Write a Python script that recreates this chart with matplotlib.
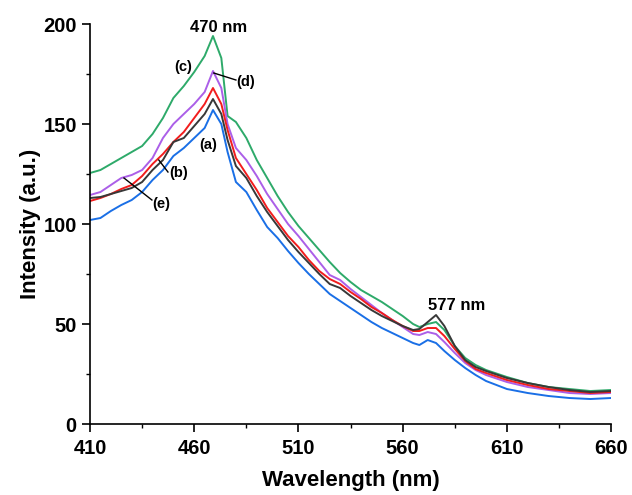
import numpy as np
import matplotlib
matplotlib.use("Agg")
import matplotlib.pyplot as plt

plt.rcParams['font.family'] = ['Liberation Sans', 'DejaVu Sans']
plt.rcParams['font.weight'] = 'bold'

# wavelength grid (nm)
wl = [410, 415, 420, 425, 430, 435, 440, 445, 450, 455, 460, 465, 469, 473, 476,
      480, 485, 490, 495, 500, 505, 510, 515, 520, 525, 530, 535, 540, 545, 550,
      555, 560, 565, 568, 572, 576, 580, 585, 590, 595, 600, 610, 620, 630, 640,
      650, 660]

# (a) black
a_int = [113, 113.5, 115, 116.5, 118, 121, 127, 132, 141, 143, 149, 155, 162.5, 155, 142,
         129, 123, 114, 106, 99, 92, 86, 80.5, 75, 70, 68, 64, 60.5, 57, 54,
         51.5, 49, 47, 47.5, 51, 54.5, 49, 39, 32, 28.5, 26.5, 23, 20.5, 18.5, 17,
         16, 16.5]
# (b) red
b_int = [111.5, 113, 115, 117.5, 119.5, 124, 130, 135, 141, 146, 153, 160, 168, 160, 147,
         133, 125, 117, 108, 101, 94, 88.5, 82, 76.5, 72.5, 70, 66, 62.5, 58.5, 55.5,
         52, 49, 46.5, 46.5, 48, 48, 44, 37.5, 31.5, 27.5, 25.5, 22, 19.5, 17.5, 16.5,
         15.5, 16]
# (c) green
c_int = [125.5, 127, 130, 133, 136, 139, 145, 153, 163, 169, 176, 184, 194, 183, 154,
         151, 143, 132, 123, 114, 106, 99, 93, 87, 81, 75.5, 71, 67, 64, 61,
         57.5, 54, 50, 48.5, 50, 51, 47, 39, 33, 29.5, 27, 23.5, 20.5, 18.5, 17.5,
         16.5, 17]
# (d) purple
d_int = [114.5, 116, 119.5, 123, 124.5, 127, 133, 143, 150, 155, 160, 166, 176.5, 168, 150,
         138, 132, 124, 115, 107.5, 100, 94, 87.5, 81, 74.5, 72, 67.5, 63.5, 59.5, 55.5,
         52, 48.5, 45, 44.5, 46, 45, 41, 35.5, 30.5, 27, 24.5, 21, 18.5, 17, 15.5,
         15, 15.5]
# (e) blue
e_int = [102, 103, 106.5, 109.5, 112, 116, 122, 127, 134, 138, 143, 148, 157, 150, 136,
         121, 116, 107, 98.5, 93, 86.5, 80.5, 75, 70, 65, 61.5, 58, 54.5, 51, 48,
         45.5, 43, 40.5, 39.5, 42, 40.5, 36.5, 32, 28, 24.5, 21.5, 17.5, 15.5, 14, 13,
         12.5, 13]

x_major = [410, 460, 510, 560, 610, 660]
x_minor = [435, 485, 535, 585, 635]
y_major = [0, 50, 100, 150, 200]
y_minor = [25, 75, 125, 175]

fig = plt.figure(figsize=(6.32, 4.95), dpi=100)
ax = fig.add_axes([0.1424, 0.1434, 0.8246, 0.8081])

ax.plot(wl, c_int, color='#2eaa6a', lw=1.4)
ax.plot(wl, d_int, color='#ab5fe8', lw=1.4)
ax.plot(wl, b_int, color='#f21d1d', lw=1.4)
ax.plot(wl, a_int, color='#383838', lw=1.4)
ax.plot(wl, e_int, color='#1a6fe6', lw=1.4)

ax.set_xlim(410, 660)
ax.set_ylim(0, 200)
ax.set_xticks(x_major)
ax.set_xticks(x_minor, minor=True)
ax.set_yticks(y_major)
ax.set_yticks(y_minor, minor=True)

for s in ['top', 'right']:
    ax.spines[s].set_visible(False)
for s in ['left', 'bottom']:
    ax.spines[s].set_linewidth(1.2)

ax.tick_params(which='major', direction='out', length=5.5, width=1.2, labelsize=14.5)
ax.tick_params(axis='x', which='major', pad=5)
ax.tick_params(axis='y', which='major', pad=4)
ax.tick_params(which='minor', direction='out', length=3, width=1.0)
for lab in ax.get_xticklabels() + ax.get_yticklabels():
    lab.set_fontweight('bold')

ax.set_xlabel('Wavelength (nm)', fontsize=16, fontweight='bold', labelpad=9)
ax.set_ylabel('Intensity (a.u.)', fontsize=16, fontweight='bold', labelpad=2)

# annotations
ax.text(471.8, 198.5, '470 nm', fontsize=12, fontweight='bold', ha='center', va='center')
ax.text(585.8, 59.5, '577 nm', fontsize=12, fontweight='bold', ha='center', va='center')
ax.text(454.5, 178.5, '(c)', fontsize=10.5, fontweight='bold', ha='center', va='center')
ax.text(466.5, 139.5, '(a)', fontsize=10.5, fontweight='bold', ha='center', va='center')
ax.text(484.5, 171, '(d)', fontsize=10.5, fontweight='bold', ha='center', va='center')
ax.text(452.5, 125.5, '(b)', fontsize=10.5, fontweight='bold', ha='center', va='center')
ax.text(444, 110, '(e)', fontsize=10.5, fontweight='bold', ha='center', va='center')
ax.plot([469.4, 480], [175.5, 172], color='black', lw=1)
ax.plot([443, 447.4], [132, 126], color='black', lw=1)
ax.plot([426.3, 439.7], [123, 112], color='black', lw=1)

fig.savefig('out.png', dpi=100)
